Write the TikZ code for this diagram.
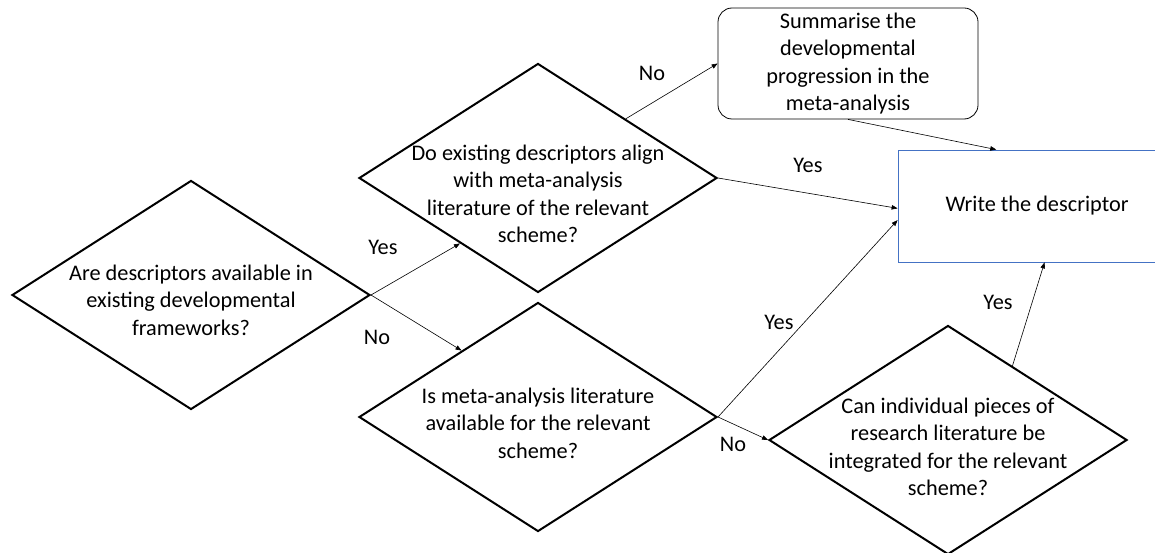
\documentclass[tikz,border=0pt]{standalone}
\usepackage{fontspec}
\setmainfont{Carlito}
\usepackage{tikz}
\usetikzlibrary{shapes,arrows.meta,positioning}

\definecolor{boxblue}{RGB}{68,114,196}
\tikzset{
	decision/.style={shape=diamond, draw, line width=2pt, minimum width=358pt, minimum height=229pt, inner sep=0pt},
	qtext/.style={align=center, font=\fontsize{22.3}{27.5}\selectfont},
	flow/.style={-{Triangle[length=6pt,width=4.5pt]}, line width=0.6pt},
	answer/.style={font=\fontsize{22.3}{24}\selectfont}
}

\begin{document}
\begin{tikzpicture}[x=1pt,y=-1pt]
	\useasboundingbox (0,0) rectangle (1155,553);
	\node[decision, label={[qtext,yshift=-5pt]center:Are descriptors available in\\existing developmental\\frameworks?}] (d1) at (191,295) {};
	\node[decision, label={[qtext,yshift=-16pt]center:Do existing descriptors align\\with meta-analysis\\literature of the relevant\\scheme?}] (d2) at (538,178) {};
	\node[decision, label={[qtext,yshift=-6pt]center:Is meta-analysis literature\\available for the relevant\\scheme?}] (d3) at (538,417) {};
	\node[decision, label={[qtext,yshift=-7pt]center:Can individual pieces of\\research literature be\\integrated for the relevant\\scheme?}] (d4) at (948,440) {};
	\node[draw, rounded corners=14pt, line width=0.8pt, minimum width=260pt, minimum height=111pt, inner sep=0pt, qtext] (sum) at (848,63.5) {Summarise the\\developmental\\progression in the\\meta-analysis};
	\node[draw=boxblue, line width=0.8pt, minimum width=267pt, minimum height=112pt, inner sep=0pt] (write) at (1031.5,206) {};
	\node[qtext] (wtext) at (1037,206) {Write the descriptor};

	\path [flow] (d1.east) edge (d2.220);
	\path [flow] (d1.east) edge (d3.139);
	\path [flow] (d2.34) edge (sum.west);
	\path [flow] (sum.south) edge (write.122);
	\path [flow] (d2.east) edge (write.181);
	\path [flow] (d3.east) edge (write.186);
	\path [flow] (d3.east) edge (d4.west);
	\path [flow] (d4.49) edge (write.-77);

	\node[answer] (y1) at (383,247) {Yes};
	\node[answer] (n1) at (377,337) {No};
	\node[answer] (n2) at (652,73) {No};
	\node[answer] (y2) at (808,165) {Yes};
	\node[answer] (y3) at (779,322) {Yes};
	\node[answer] (n3) at (733,444) {No};
	\node[answer] (y4) at (998,302) {Yes};
\end{tikzpicture}
\end{document}
